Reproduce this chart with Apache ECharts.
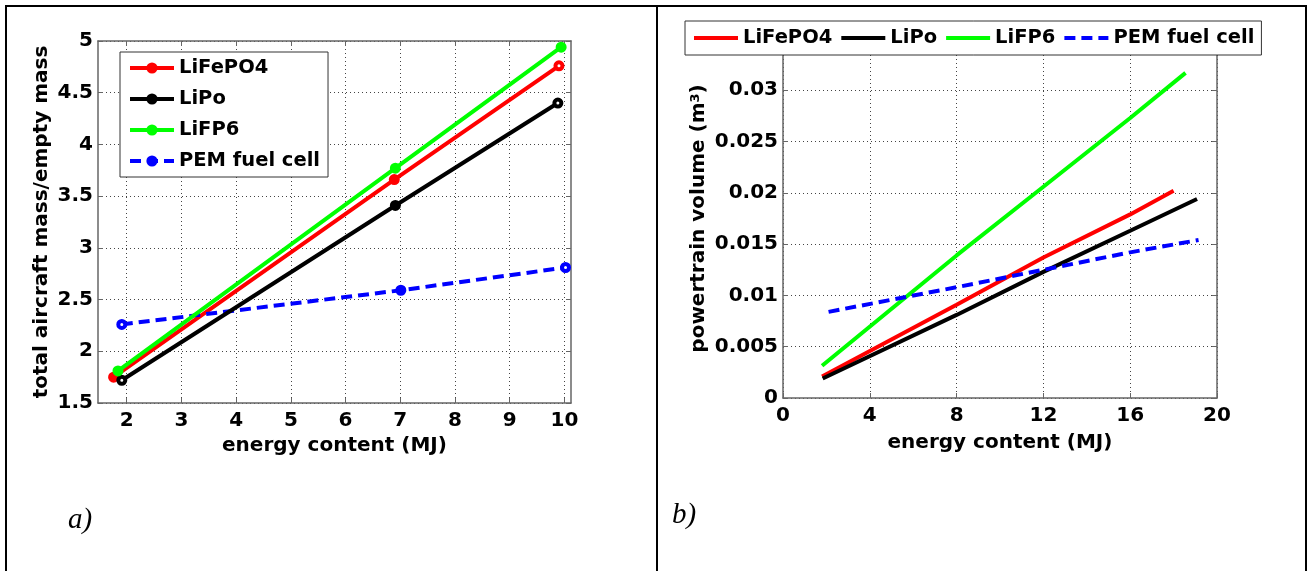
<!DOCTYPE html>
<html>
<head>
<meta charset="utf-8">
<script src="https://cdn.jsdelivr.net/npm/echarts@6/dist/echarts.min.js"></script>
<style>
html,body{margin:0;padding:0;background:#fff}
#main{width:1311px;height:571px}
</style>
</head>
<body>
<div id="main"></div>
<script>
'use strict'
// a) total aircraft mass / empty mass vs energy content
const massLiFePO4 = [[1.76, 1.75], [6.89, 3.66], [9.90, 4.76]];
const massLiPo = [[1.91, 1.72], [6.91, 3.41], [9.88, 4.40]];
const massLiFP6 = [[1.84, 1.81], [6.91, 3.77], [9.94, 4.94]];
const massPEM = [[1.91, 2.26], [7.01, 2.59], [10.02, 2.81]];
// b) powertrain volume vs energy content
const volLiFePO4 = [[1.8, 0.0021], [8, 0.0091], [12, 0.0137], [16, 0.0179], [18, 0.0202]];
const volLiPo = [[1.83, 0.0019], [8, 0.0081], [12, 0.0123], [16, 0.0163], [19.08, 0.0194]];
const volLiFP6 = [[1.8, 0.00315], [8, 0.0139], [12, 0.0206], [16, 0.0273], [18.55, 0.0317]];
const volPEM = [[2.1, 0.0084], [8, 0.0108], [12, 0.0125], [16, 0.0142], [19.15, 0.0154]];

const seriesNames = ['LiFePO4', 'LiPo', 'LiFP6', 'PEM fuel cell'];
const colors = ['#ff0000', '#000000', '#00ff00', '#0000ff'];
const massXTicks = [2, 3, 4, 5, 6, 7, 8, 9, 10];
// which markers of a) are drawn as open rings (per series, by point index)
const hollowMarks = [[2], [0, 2], [], [0, 2]];

const font = 'DejaVu Sans';
const axisGray = '#666';
const ZW = '\u200b'; // keeps the b) legend separate from the a) legend

window.onload = () => {
	let chart = echarts.init(document.getElementById('main'));

	let gridLine = {show: true, lineStyle: {color: '#444', width: 1, type: [1, 3]}};
	let tickLabel = {color: '#000', fontFamily: font, fontWeight: 'bold', fontSize: 20};
	let nameStyle = {color: '#000', fontFamily: font, fontWeight: 'bold', fontSize: 20};
	let legendText = {color: '#000', fontFamily: font, fontWeight: 'bold', fontSize: 19.5};

	// mirrored axes only give the box and inner ticks on top / right
	let mirror = (pos, grid, extra) => Object.assign({
		type: 'value', position: pos, gridIndex: grid,
		axisLine: {show: true, onZero: false, lineStyle: {color: axisGray, width: 1.5}},
		axisTick: {show: true, inside: true, length: 5, lineStyle: {color: axisGray}},
		axisLabel: {show: false}, splitLine: {show: false}
	}, extra);

	let massSeries = [massLiFePO4, massLiPo, massLiFP6, massPEM].map((d, i) => ({
		name: seriesNames[i],
		type: 'line',
		xAxisIndex: 0, yAxisIndex: 0,
		data: d,
		symbol: 'circle',
		symbolSize: 7,
		showSymbol: true,
		lineStyle: {color: colors[i], width: 4, type: i == 3 ? [11, 6] : 'solid'},
		itemStyle: {
			color: p => hollowMarks[i].indexOf(p.dataIndex) > -1 ? '#fff' : colors[i],
			borderColor: colors[i], borderWidth: 4
		},
		z: 3 + (i == 3 ? 0 : i)
	}));

	let volSeries = [volLiFePO4, volLiPo, volLiFP6, volPEM].map((d, i) => ({
		name: seriesNames[i] + ZW,
		type: 'line',
		xAxisIndex: 2, yAxisIndex: 2,
		data: d,
		symbol: 'none',
		color: colors[i],
		lineStyle: {width: 4, type: i == 3 ? [11, 6] : 'solid'}
	}));

	let option = {
		animation: false,
		backgroundColor: '#fff',
		grid: [
			{left: 98, top: 41, width: 473, height: 362, outerBoundsMode: 'none'},
			{left: 783, top: 39, width: 434, height: 359, outerBoundsMode: 'none'}
		],
		xAxis: [
			{
				type: 'value', gridIndex: 0, min: 1.475, max: 10.12,
				name: 'energy content (MJ)', nameLocation: 'middle', nameGap: 33,
				nameTextStyle: nameStyle,
				axisLine: {show: true, onZero: false, lineStyle: {color: axisGray, width: 1.5}},
				axisTick: {show: true, inside: true, length: 5, customValues: massXTicks, lineStyle: {color: axisGray}},
				axisLabel: Object.assign({customValues: massXTicks, margin: 8}, tickLabel),
				splitLine: gridLine
			},
			mirror('top', 0, {min: 1.475, max: 10.12, axisTick: {show: true, inside: true, length: 5, customValues: massXTicks, lineStyle: {color: axisGray}}}),
			{
				type: 'value', gridIndex: 1, min: 0, max: 20, interval: 4,
				name: 'energy content (MJ)', nameLocation: 'middle', nameGap: 35,
				nameTextStyle: nameStyle,
				axisLine: {show: true, onZero: false, lineStyle: {color: axisGray, width: 1.5}},
				axisTick: {show: true, inside: true, length: 5, lineStyle: {color: axisGray}},
				axisLabel: Object.assign({margin: 8}, tickLabel),
				splitLine: gridLine
			},
			mirror('top', 1, {min: 0, max: 20, interval: 4})
		],
		yAxis: [
			{
				type: 'value', gridIndex: 0, min: 1.5, max: 5, interval: 0.5,
				name: 'total aircraft mass/empty mass', nameLocation: 'middle', nameGap: 46,
				nameTextStyle: nameStyle,
				axisLine: {show: true, onZero: false, lineStyle: {color: axisGray, width: 1.5}},
				axisTick: {show: true, inside: true, length: 5, lineStyle: {color: axisGray}},
				axisLabel: Object.assign({margin: 5}, tickLabel),
				splitLine: gridLine
			},
			mirror('right', 0, {min: 1.5, max: 5, interval: 0.5}),
			{
				type: 'value', gridIndex: 1, min: 0, max: 0.035, interval: 0.005,
				name: 'powertrain volume (m{sup|3})', nameLocation: 'middle', nameGap: 74,
				nameTextStyle: Object.assign({
					rich: {sup: {fontFamily: font, fontWeight: 'bold', fontSize: 13, verticalAlign: 'top', color: '#000'}}
				}, nameStyle),
				axisLine: {show: true, onZero: false, lineStyle: {color: axisGray, width: 1.5}},
				axisTick: {show: true, inside: true, length: 5, lineStyle: {color: axisGray}},
				axisLabel: Object.assign({margin: 5, showMaxLabel: false}, tickLabel),
				splitLine: gridLine
			},
			mirror('right', 1, {min: 0, max: 0.035, interval: 0.005})
		],
		legend: [
			{
				data: seriesNames.map((n, i) => ({
					name: n,
					itemStyle: {color: colors[i], borderWidth: 0},
					lineStyle: {color: colors[i], width: 4}
				})),
				orient: 'vertical',
				left: 120, top: 52,
				padding: [6, 8],
				itemWidth: 44, itemHeight: 14, itemGap: 11,
				backgroundColor: '#fff',
				borderColor: '#333', borderWidth: 1,
				textStyle: legendText,
				selectedMode: false
			},
			{
				data: seriesNames.map(n => n + ZW),
				orient: 'horizontal',
				left: 685, top: 21,
				padding: [7, 7],
				itemWidth: 44, itemHeight: 14, itemGap: 7,
				backgroundColor: '#fff',
				borderColor: '#333', borderWidth: 1,
				itemStyle: {opacity: 0},
				lineStyle: {width: 4},
				formatter: n => n.replace(ZW, ''),
				textStyle: legendText,
				selectedMode: false
			}
		],
		graphic: [
			{type: 'rect', shape: {x: 6, y: 6, width: 1300, height: 600}, style: {fill: 'none', stroke: '#000', lineWidth: 2}, silent: true},
			{type: 'line', shape: {x1: 657, y1: 6, x2: 657, y2: 571}, style: {stroke: '#000', lineWidth: 2}, silent: true},
			{type: 'text', left: 68, top: 506, style: {text: 'a)', fontFamily: 'Liberation Serif', fontStyle: 'italic', fontSize: 29, fill: '#000'}},
			{type: 'text', left: 672, top: 501, style: {text: 'b)', fontFamily: 'Liberation Serif', fontStyle: 'italic', fontSize: 29, fill: '#000'}}
		],
		series: massSeries.concat(volSeries)
	};
	chart.setOption(option);
}
</script>
</body>
</html>
